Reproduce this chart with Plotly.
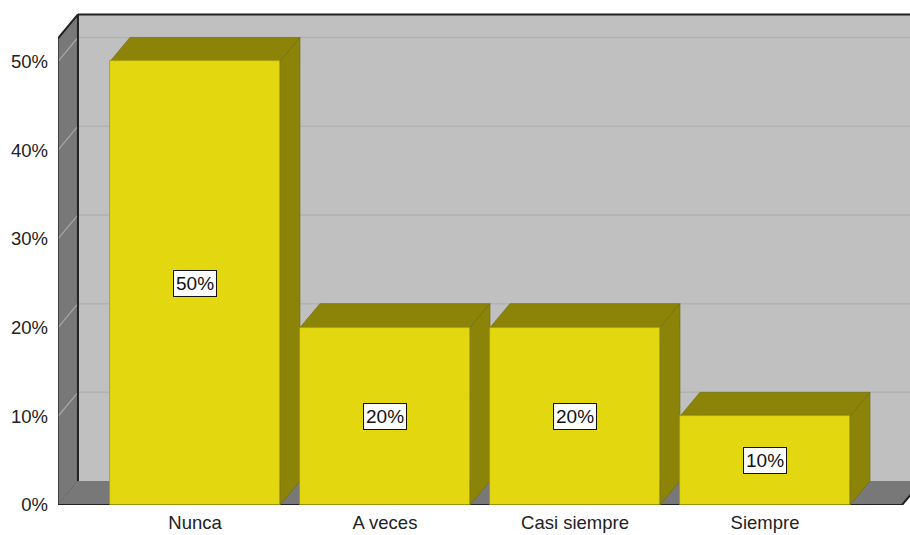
import plotly.graph_objects as go

# Survey answers and their share of respondents (%)
categories = ["Nunca", "A veces", "Casi siempre", "Siempre"]
percentages = [50, 20, 20, 10]
y_ticks = [0, 10, 20, 30, 40, 50]

# Pseudo-3D look
FRONT = "#E3D70F"
SHADE = "#8B8408"
WALL = "#C0C0C0"
SIDE_WALL = "#787878"
GRID = "#B2B2B2"
EDGE = "#222222"
FONT = "Liberation Sans"

BAR_W = 0.895          # bar width in category units
DX = 0.105             # depth offset along x (category units)
DY = 2.7               # depth offset along y (percent units)
X_LO, X_HI = -0.721, 3.721
WALL_TOP = 52.6
Y_MAX = 55.8


def path(points):
    return "M " + " L ".join(f"{x},{y}" for x, y in points) + " Z"


shapes = []

# back wall
shapes.append(dict(type="path", xref="x", yref="y", layer="below",
                   path=path([(X_LO + DX, DY), (X_HI + DX + 1, DY),
                              (X_HI + DX + 1, WALL_TOP + DY), (X_LO + DX, WALL_TOP + DY)]),
                   fillcolor=WALL, line=dict(width=0)))
# gridlines on back wall and left wall
for t in y_ticks[1:]:
    shapes.append(dict(type="line", xref="x", yref="y", layer="below",
                       x0=X_LO + DX, x1=X_HI + DX + 1, y0=t + DY, y1=t + DY,
                       line=dict(color=GRID, width=1.5)))
# left wall
shapes.append(dict(type="path", xref="x", yref="y", layer="below",
                   path=path([(X_LO, 0), (X_LO + DX, DY), (X_LO + DX, WALL_TOP + DY), (X_LO, WALL_TOP)]),
                   fillcolor=SIDE_WALL, line=dict(color="#555555", width=1)))
for t in y_ticks[1:]:
    shapes.append(dict(type="line", xref="x", yref="y", layer="below",
                       x0=X_LO, x1=X_LO + DX, y0=t, y1=t + DY,
                       line=dict(color="#A8A8A8", width=1.2)))
# floor
shapes.append(dict(type="path", xref="x", yref="y", layer="below",
                   path=path([(X_LO, 0), (X_HI, 0), (X_HI + DX, DY), (X_LO + DX, DY)]),
                   fillcolor=SIDE_WALL, line=dict(width=0)))
# dark frame edges
edge = dict(color=EDGE, width=2)
shapes.append(dict(type="line", xref="x", yref="y", layer="below",
                   x0=X_LO + DX, x1=X_LO + DX, y0=DY, y1=WALL_TOP + DY, line=edge))
shapes.append(dict(type="line", xref="x", yref="y", layer="below",
                   x0=X_LO + DX, x1=X_HI + DX + 1, y0=WALL_TOP + DY, y1=WALL_TOP + DY, line=edge))
shapes.append(dict(type="line", xref="x", yref="y", layer="below",
                   x0=X_LO, x1=X_LO + DX, y0=WALL_TOP, y1=WALL_TOP + DY, line=edge))
shapes.append(dict(type="line", xref="x", yref="y", layer="below",
                   x0=X_LO, x1=X_LO, y0=0, y1=WALL_TOP, line=dict(color="#333333", width=1.5)))
shapes.append(dict(type="line", xref="x", yref="y", layer="below",
                   x0=X_LO, x1=X_HI, y0=0, y1=0, line=edge))
shapes.append(dict(type="line", xref="x", yref="y", layer="below",
                   x0=X_HI, x1=X_HI + DX, y0=0, y1=DY, line=edge))

# top and side faces of each bar
for i, v in enumerate(percentages):
    left, right = i - BAR_W / 2, i + BAR_W / 2
    shapes.append(dict(type="path", xref="x", yref="y", layer="below",
                       path=path([(left, v), (right, v), (right + DX, v + DY), (left + DX, v + DY)]),
                       fillcolor=SHADE, line=dict(color="#6E6906", width=0.6)))
    shapes.append(dict(type="path", xref="x", yref="y", layer="below",
                       path=path([(right, 0), (right + DX, DY), (right + DX, v + DY), (right, v)]),
                       fillcolor=SHADE, line=dict(color="#6E6906", width=0.6)))

fig = go.Figure()
fig.add_trace(go.Bar(
    x=list(range(len(categories))), y=percentages, width=BAR_W,
    marker=dict(color=FRONT, line=dict(color="#A59C0A", width=0.8)),
    hoverinfo="skip", showlegend=False,
))

annotations = [
    dict(x=i, y=v / 2, xref="x", yref="y", text=f"{v}%", showarrow=False,
         font=dict(family=FONT, size=19, color="#111111"),
         bgcolor="white", bordercolor="#111111", borderwidth=1, borderpad=2)
    for i, v in enumerate(percentages)
]

fig.update_layout(
    width=910, height=535,
    margin=dict(l=58, r=0, t=10, b=30),
    paper_bgcolor="white", plot_bgcolor="white",
    shapes=shapes, annotations=annotations,
    font=dict(family=FONT, size=18.5, color="#222222"),
    bargap=0,
    xaxis=dict(range=[X_LO, X_HI + 0.042], tickvals=list(range(len(categories))),
               ticktext=categories, showgrid=False, zeroline=False, showline=False,
               ticks="", ticklen=0, ticklabelstandoff=4),
    yaxis=dict(range=[0, Y_MAX], tickvals=y_ticks, ticktext=[f"{t}%" for t in y_ticks],
               showgrid=False, zeroline=False, showline=False, ticks="", ticklabelstandoff=9),
)

fig.write_html("out.html")
